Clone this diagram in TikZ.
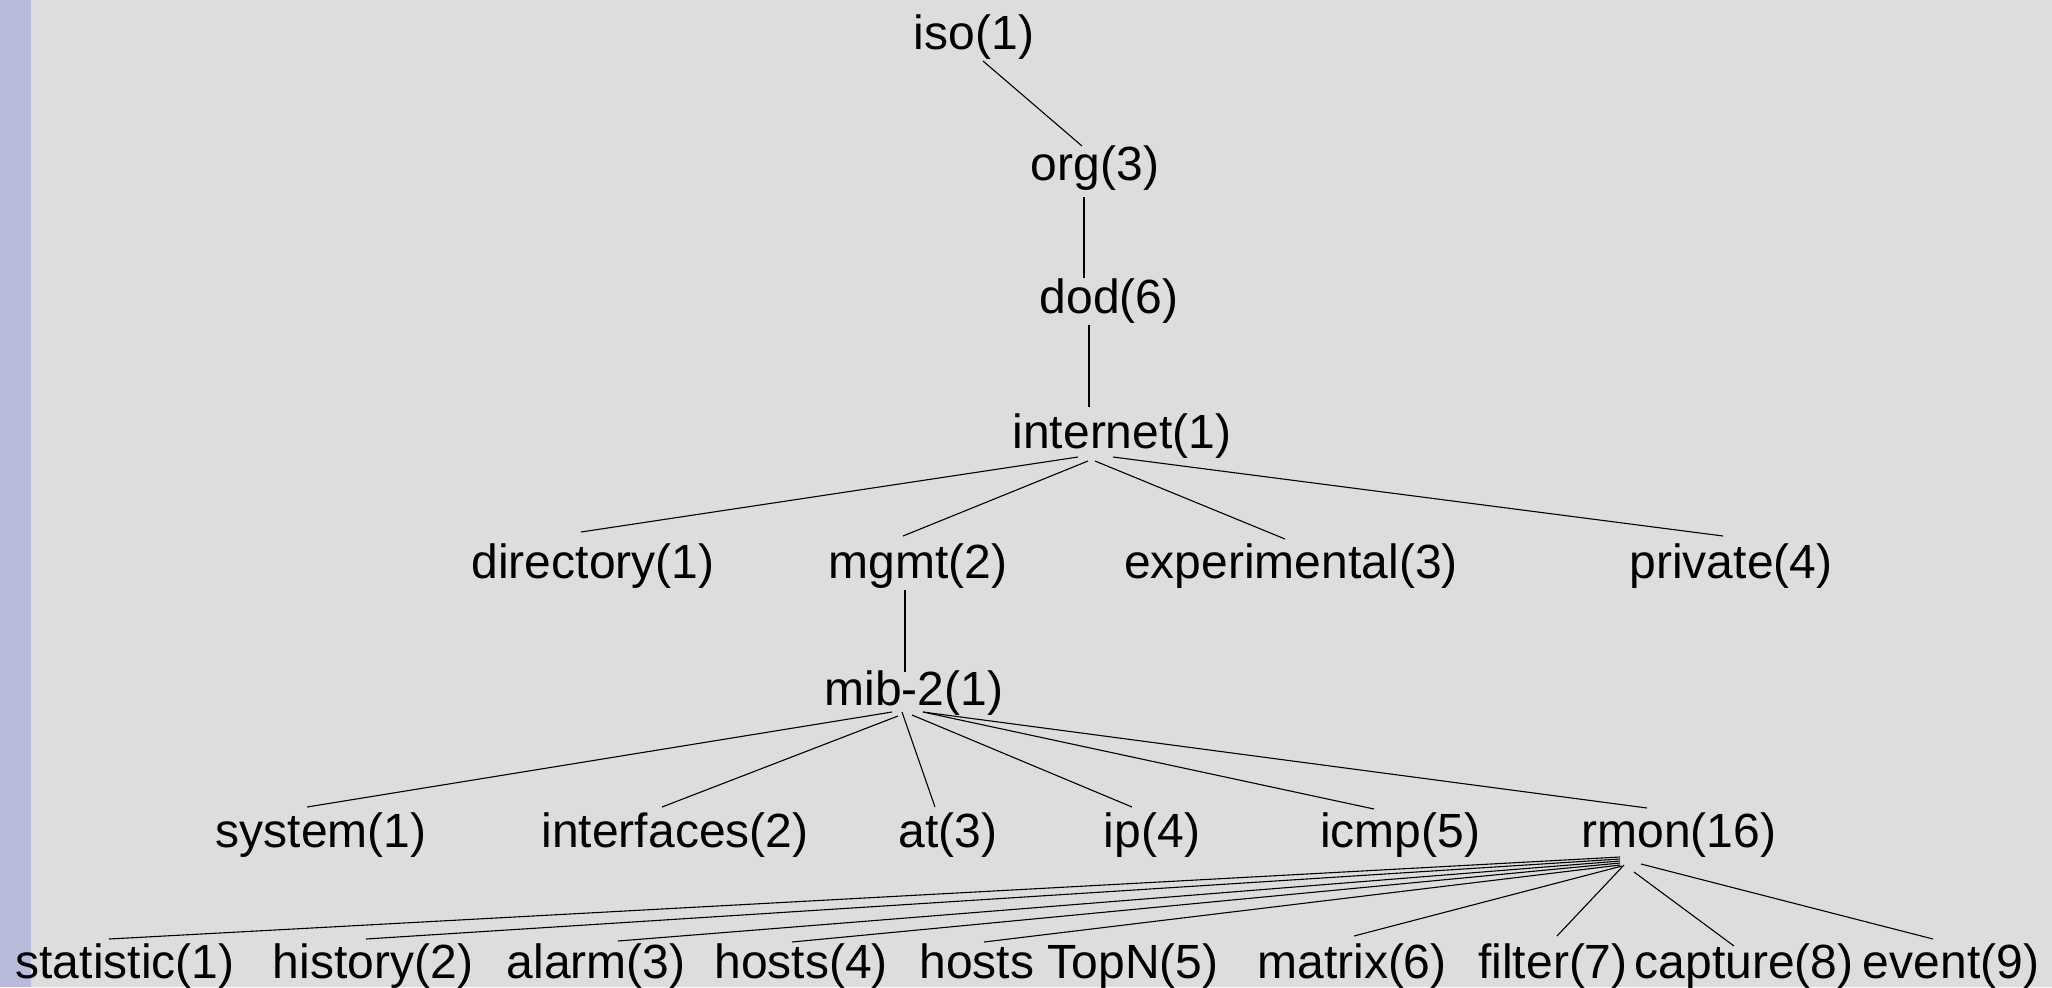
\documentclass[tikz,border=0pt]{standalone}
\usepackage{fontspec}
\setmainfont{Liberation Sans}
\definecolor{bgc}{HTML}{DDDDDD}
\definecolor{barc}{HTML}{B8BCDA}
\begin{document}
\begin{tikzpicture}[x=0.5pt,y=-0.5pt,
  lbl/.style={anchor=base,inner sep=0pt,font=\fontsize{24}{29}\selectfont},
  edge/.style={draw=black,line width=0.55pt}]
\useasboundingbox (0,0) rectangle (2052,987);
\fill[bgc] (0,0) rectangle (2052,987);
\fill[barc] (0,0) rectangle (31,987);
% nodes
\node[lbl] (iso) at (974,49) {iso(1)};
\node[lbl] (org) at (1095,180) {org(3)};
\node[lbl] (dod) at (1109,313) {dod(6)};
\node[lbl] (internet) at (1122,448) {internet(1)};
\node[lbl] (directory) at (593,578) {directory(1)};
\node[lbl] (mgmt) at (918,578) {mgmt(2)};
\node[lbl] (experimental) at (1291,578) {experimental(3)};
\node[lbl] (private) at (1731,578) {private(4)};
\node[lbl] (mib) at (914,705) {mib-2(1)};
\node[lbl] (system) at (321,847) {system(1)};
\node[lbl] (interfaces) at (675,847) {interfaces(2)};
\node[lbl] (at) at (948,847) {at(3)};
\node[lbl] (ip) at (1152,847) {ip(4)};
\node[lbl] (icmp) at (1400,847) {icmp(5)};
\node[lbl] (rmon) at (1679,847) {rmon(16)};
\node[lbl] (statistic) at (125,978) {statistic(1)};
\node[lbl] (history) at (373,978) {history(2)};
\node[lbl] (alarm) at (596,978) {alarm(3)};
\node[lbl] (hosts) at (801,978) {hosts(4)};
\node[lbl] (topn) at (1069,978) {hosts TopN(5)};
\node[lbl] (matrix) at (1352,978) {matrix(6)};
\node[lbl] (filter) at (1553,978) {filter(7)};
\node[lbl] (capture) at (1744,978) {capture(8)};
\node[lbl] (event) at (1951,978) {event(9)};
% connectors
\draw[edge] ([shift={(9,12)}]iso.base) -- ([shift={(-13,-34)}]org.base);
\draw[edge] ([shift={(-11,17)}]org.base) -- ([shift={(-25,-35)}]dod.base);
\draw[edge] ([shift={(-20,12)}]dod.base) -- ([shift={(-33,-41)}]internet.base);
\draw[edge] ([shift={(-44,9)}]internet.base) -- ([shift={(-12,-46)}]directory.base);
\draw[edge] ([shift={(-34,13)}]internet.base) -- ([shift={(-15,-42)}]mgmt.base);
\draw[edge] ([shift={(-27,13)}]internet.base) -- ([shift={(-6,-39)}]experimental.base);
\draw[edge] ([shift={(-9,9)}]internet.base) -- ([shift={(-8,-42)}]private.base);
\draw[edge] ([shift={(-13,12)}]mgmt.base) -- ([shift={(-9,-33)}]mib.base);
\draw[edge] ([shift={(-22,7)}]mib.base) -- ([shift={(-14,-40)}]system.base);
\draw[edge] ([shift={(-16,11)}]mib.base) -- ([shift={(-13,-40)}]interfaces.base);
\draw[edge] ([shift={(-12,7)}]mib.base) -- ([shift={(-13,-40)}]at.base);
\draw[edge] ([shift={(-2,10)}]mib.base) -- ([shift={(-20,-40)}]ip.base);
\draw[edge] ([shift={(9,7)}]mib.base) -- ([shift={(-26,-38)}]icmp.base);
\draw[edge] ([shift={(9,7)}]mib.base) -- ([shift={(-32,-39)}]rmon.base);
\draw[edge] ([shift={(-59,10)}]rmon.base) -- ([shift={(-16,-39)}]statistic.base);
\draw[edge] ([shift={(-59,12)}]rmon.base) -- ([shift={(-7,-39)}]history.base);
\draw[edge] ([shift={(-59,14)}]rmon.base) -- ([shift={(22,-37)}]alarm.base);
\draw[edge] ([shift={(-59,16)}]rmon.base) -- ([shift={(-9,-36)}]hosts.base);
\draw[edge] ([shift={(-59,18)}]rmon.base) -- ([shift={(-85,-36)}]topn.base);
\draw[edge] ([shift={(-57,19)}]rmon.base) -- ([shift={(2,-42)}]matrix.base);
\draw[edge] ([shift={(-55,18)}]rmon.base) -- ([shift={(4,-42)}]filter.base);
\draw[edge] ([shift={(-45,25)}]rmon.base) -- ([shift={(-10,-32)}]capture.base);
\draw[edge] ([shift={(-38,17)}]rmon.base) -- ([shift={(-18,-39)}]event.base);
\end{tikzpicture}
\end{document}
